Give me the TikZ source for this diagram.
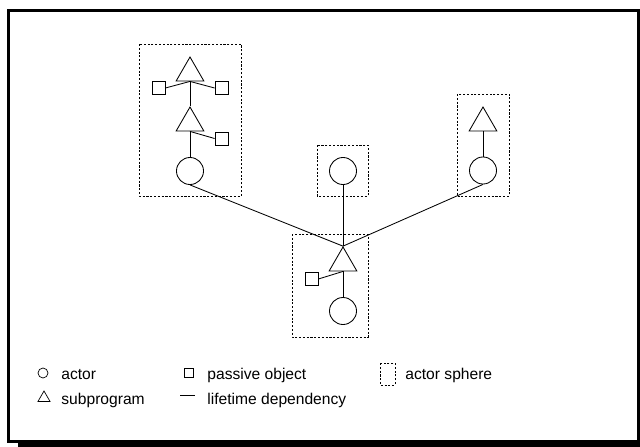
\documentclass[tikz,border=0pt]{standalone}
\usepackage{fontspec}
\setmainfont{Liberation Sans}
\usepackage{tikz}
\usetikzlibrary{positioning,shapes,calc}

\begin{document}
\begin{tikzpicture}[x=0.025cm, y=-0.025cm, line width=0.6pt,
      actor/.style={circle, draw, inner sep=0, minimum size=0.675cm},
      subprog/.style={regular polygon, regular polygon sides=3, draw, inner sep=0, minimum size=0.8cm},
      passive/.style={rectangle, draw, inner sep=0, minimum size=0.325cm},
      sphere/.style={draw, dash pattern=on 1.5pt off 1.2pt, line width=0.5pt},
      legend/.style={anchor=base west, inner sep=0, font=\fontsize{11.1}{13}\selectfont}
      ]
      \useasboundingbox (0,0) rectangle (640,447);
      % frame with shadow
      \fill (18,16) rectangle (640,447);
      \draw[line width=0.075cm, fill=white] (8.5,10.5) rectangle (638.5,441.5);
      % actor spheres
      \draw[sphere] (139,44) rectangle (241,196);
      \draw[sphere] (317,145) rectangle (368,196);
      \draw[sphere] (292,234) rectangle (368,337);
      \draw[sphere] (457,94) rectangle (509,196);
      % left sphere
      \node[subprog] (T1) at (190,73) {};
      \node[subprog] (T2) at (190,123) {};
      \node[actor] (C1) at (190,171) {};
      \node[passive] (P1) at (158.5,88) {};
      \node[passive] (P2) at (221.5,88) {};
      \node[passive] (P3) at (221.5,138.5) {};
      % middle sphere
      \node[actor] (C2) at (343,171) {};
      % bottom sphere
      \node[subprog] (T3) at (343,263) {};
      \node[passive] (P4) at (311.5,279) {};
      \node[actor] (C3) at (343,311) {};
      % right sphere
      \node[subprog] (T4) at (483,123) {};
      \node[actor] (C4) at (483,170.5) {};
      % lifetime dependencies
      \draw (T1.side 2) -- (P1.east);
      \draw (T1.side 2) -- (P2.west);
      \draw (T1.side 2) -- (T2.corner 1);
      \draw (T2.side 2) -- (P3.west);
      \draw (T2.side 2) -- (C1.north);
      \draw (C1.south) -- (T3.corner 1);
      \draw (C2.south) -- (T3.corner 1);
      \draw (C4.south) -- (T3.corner 1);
      \draw (T4.side 2) -- (C4.north);
      \draw (T3.side 2) -- (P4.east);
      \draw (T3.side 2) -- (C3.north);
      % legend
      \node[actor, minimum size=0.25cm, line width=0.5pt] (LA) at (43,373) {};
      \node[legend] (LAt) at (61,379) {actor};
      \node[passive, minimum size=0.22cm, line width=0.5pt] (LP) at (189,373) {};
      \node[legend] (LPt) at (207,379) {passive object};
      \draw[sphere] (380,363) rectangle (395,385);
      \node[legend] (LSt) at (405,379) {actor sphere};
      \node[subprog, minimum size=0.35cm, line width=0.5pt] (LT) at (44,398) {};
      \node[legend] (LTt) at (61,404) {subprogram};
      \coordinate (LL1) at (180,395);
      \coordinate (LL2) at (195,395);
      \draw[line width=0.5pt] (LL1) -- (LL2);
      \node[legend] (LLt) at (207,404) {lifetime dependency};
    \end{tikzpicture}
\end{document}
